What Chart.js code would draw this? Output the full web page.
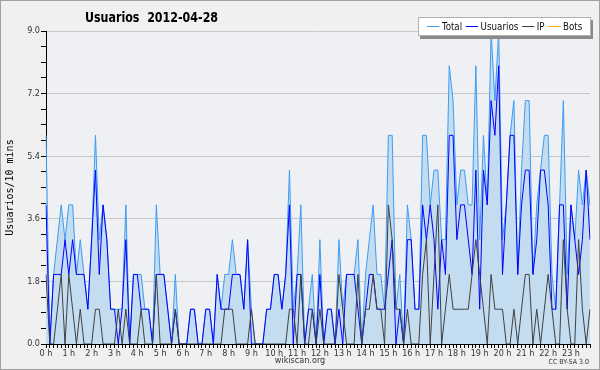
<!DOCTYPE html>
<html>
<head>
<meta charset="utf-8">
<script src="https://cdn.jsdelivr.net/npm/chart.js@4.4.1/dist/chart.umd.min.js"></script>
<style>
    html, body { margin: 0; padding: 0; background: #f0f0f0; }
    #wrap { position: relative; width: 600px; height: 370px; background: #f0f0f0;
        font-family: "DejaVu Sans Condensed", "DejaVu Sans", sans-serif; }
    #c { position: absolute; left: 0; top: 0; }
    #frame { position: absolute; left: 0; top: 0; width: 600px; height: 370px; box-sizing: border-box;
        border: 1px solid #a0a0a0; pointer-events: none; }
    #title { position: absolute; left: 85px; top: 9px; font-weight: bold; font-size: 14px; white-space: pre; color: #000;
        transform: scaleX(0.88); transform-origin: left top; }
    #legend { position: absolute; left: 418px; top: 17px; width: 173px; height: 19px; box-sizing: border-box;
        background: #fff; border: 1px solid #b0b0b0; box-shadow: 2px 3px 0 #8a8a8a; }
    #legend .in { position: absolute; left: 8px; top: 0; height: 17px; display: flex; align-items: center;
        font-size: 11px; white-space: nowrap; color: #111; transform: scaleX(0.88); transform-origin: left center; }
    #legend .sw { display: inline-block; width: 14px; height: 1px; margin-right: 3px; }
    #legend .lb { margin-right: 4px; }
    #site { position: absolute; left: 0; width: 600px; top: 355px; text-align: center; font-size: 9px; color: #333; }
    #lic { position: absolute; right: 11px; top: 358px; font-size: 7px; color: #333; }
</style>
</head>
<body>
<div id="wrap">
    <canvas id="c" width="600" height="370"></canvas>
    <div id="title">Usuarios  2012-04-28</div>
    <div id="legend"><div class="in" id="legendIn"></div></div>
    <div id="site">wikiscan.org</div>
    <div id="lic">CC BY-SA 3.0</div>
    <div id="frame"></div>
</div>
<script>
// ===================== DATA (10 min slots, 2012-04-28) =====================
const hours = ['0 h', '1 h', '2 h', '3 h', '4 h', '5 h', '6 h', '7 h', '8 h', '9 h', '10 h', '11 h',
    '12 h', '13 h', '14 h', '15 h', '16 h', '17 h', '18 h', '19 h', '20 h', '21 h', '22 h', '23 h'];

const total = [
    6, 0, 2, 3, 4, 3, 4, 4, 2, 3, 2, 1, 3, 6, 3, 4, 3, 1, 1, 1, 1, 4, 0, 2,
    2, 2, 1, 1, 0, 4, 2, 2, 1, 0, 2, 0, 0, 0, 1, 1, 0, 0, 1, 1, 0, 2, 1, 2,
    2, 3, 2, 2, 1, 3, 1, 0, 0, 0, 1, 1, 2, 2, 1, 2, 5, 1, 2, 4, 0, 1, 2, 0,
    3, 0, 1, 1, 0, 3, 1, 2, 2, 2, 3, 0, 2, 3, 4, 2, 2, 1, 6, 6, 1, 2, 0, 4,
    3, 1, 1, 6, 6, 4, 5, 5, 3, 3, 8, 7, 4, 5, 5, 4, 4, 8, 3, 6, 4, 9, 7, 9,
    3, 4, 6, 7, 2, 5, 7, 7, 2, 4, 5, 6, 6, 2, 1, 4, 7, 2, 4, 3, 5, 4, 5, 4
];
const usuarios = [
    4, 0, 2, 2, 2, 3, 2, 3, 2, 2, 2, 1, 3, 5, 2, 4, 3, 1, 1, 0, 1, 3, 0, 2,
    2, 1, 1, 1, 0, 2, 2, 2, 1, 0, 1, 0, 0, 0, 1, 1, 0, 0, 1, 1, 0, 2, 1, 1,
    1, 2, 2, 2, 1, 3, 0, 0, 0, 0, 1, 1, 2, 2, 1, 2, 4, 0, 2, 2, 0, 1, 1, 0,
    2, 0, 1, 1, 0, 1, 0, 2, 2, 2, 1, 0, 1, 2, 2, 1, 1, 1, 2, 3, 0, 1, 0, 3,
    3, 1, 1, 4, 3, 4, 3, 1, 3, 2, 6, 6, 3, 4, 4, 3, 2, 5, 1, 5, 4, 7, 6, 8,
    2, 4, 6, 6, 2, 4, 5, 5, 2, 3, 5, 5, 4, 1, 1, 4, 4, 1, 4, 3, 2, 3, 5, 3
];
const ip = [
    2, 0, 0, 1, 2, 0, 2, 1, 0, 1, 0, 0, 0, 1, 1, 0, 0, 0, 0, 1, 0, 1, 0, 0,
    0, 1, 0, 0, 0, 2, 0, 0, 0, 0, 1, 0, 0, 0, 0, 0, 0, 0, 0, 0, 0, 0, 0, 1,
    1, 1, 0, 0, 0, 0, 1, 0, 0, 0, 0, 0, 0, 0, 0, 0, 1, 1, 0, 2, 0, 0, 1, 0,
    1, 0, 0, 0, 0, 2, 1, 0, 0, 0, 2, 0, 1, 1, 2, 1, 1, 0, 4, 3, 1, 1, 0, 1,
    0, 0, 0, 2, 3, 0, 2, 4, 0, 1, 2, 1, 1, 1, 1, 1, 2, 3, 2, 1, 0, 2, 1, 1,
    1, 0, 0, 1, 0, 1, 2, 2, 0, 1, 0, 1, 2, 1, 0, 0, 3, 1, 0, 0, 3, 1, 0, 1
];
const bots = []; // no bot activity drawn on this day

// one label per 10 min slot
const slots = [];
hours.forEach((h, i) => {
    for (let m = 0; m < 60; m += 10) slots.push(i + ':' + String(m).padStart(2, '0'));
});

// ===================== CHART =====================
const plotBg = {
    id: 'plotBg',
    beforeDraw(chart) {
        const { ctx, chartArea: a } = chart;
        ctx.save();
        ctx.fillStyle = '#eef0f3';
        ctx.fillRect(a.left, a.top, a.right - a.left, a.bottom - a.top);
        ctx.restore();
    }
};

Chart.defaults.font.family = '"DejaVu Sans Condensed", "DejaVu Sans", sans-serif';
Chart.defaults.font.size = 9;
Chart.defaults.color = '#333';

const chart = new Chart(document.getElementById('c'), {
    type: 'line',
    data: {
        labels: slots,
        datasets: [
            { label: 'Bots', data: bots, borderColor: '#ffa500', borderWidth: 1, pointRadius: 0, order: 1 },
            { label: 'IP', data: ip, borderColor: '#404040', borderWidth: 1, pointRadius: 0, order: 2 },
            { label: 'Usuarios', data: usuarios, borderColor: '#0000ff', borderWidth: 1, pointRadius: 0, order: 3 },
            { label: 'Total', data: total, borderColor: '#3d9cf2', backgroundColor: '#c4dcf0',
              fill: 'origin', borderWidth: 1, pointRadius: 0, order: 4 }
        ]
    },
    options: {
        responsive: false,
        animation: false,
        layout: { padding: { left: 0, right: 10, top: 31, bottom: 0 } },
        plugins: { legend: { display: false }, tooltip: { enabled: false } },
        elements: { line: { tension: 0 } },
        scales: {
            x: {
                offset: false,
                afterFit: s => { s.height = 26; },
                border: { color: '#000', width: 1 },
                grid: { drawOnChartArea: false, tickLength: 4, tickColor: '#000' },
                ticks: {
                    autoSkip: false, maxRotation: 0, padding: 0,
                    callback: (v, i) => i % 6 === 0 ? hours[i / 6] : ''
                }
            },
            y: {
                min: 0, max: 9,
                afterFit: s => { s.width = 46; },
                border: { color: '#000', width: 1 },
                grid: {
                    tickLength: 5, tickColor: '#000',
                    color: c => c.index % 4 === 0 ? '#c8c8c8' : 'rgba(0,0,0,0)'
                },
                ticks: {
                    stepSize: 0.45, padding: 1,
                    callback: (v, i) => i % 4 === 0 ? v.toFixed(1) : ''
                },
                title: {
                    display: true, text: 'Usuarios/10 mins', color: '#000', padding: { top: 4, bottom: 0 },
                    font: { family: '"DejaVu Sans Mono", monospace', size: 10 }
                }
            }
        }
    },
    plugins: [plotBg]
});

// legend in the order of the original: Total, Usuarios, IP, Bots
const legendEl = document.getElementById('legendIn');
['Total', 'Usuarios', 'IP', 'Bots'].forEach(name => {
    const ds = chart.data.datasets.find(d => d.label === name);
    legendEl.insertAdjacentHTML('beforeend',
        `<span class="sw" style="background:${ds.borderColor}"></span><span class="lb">${name}</span>`);
});
</script>
</body>
</html>
